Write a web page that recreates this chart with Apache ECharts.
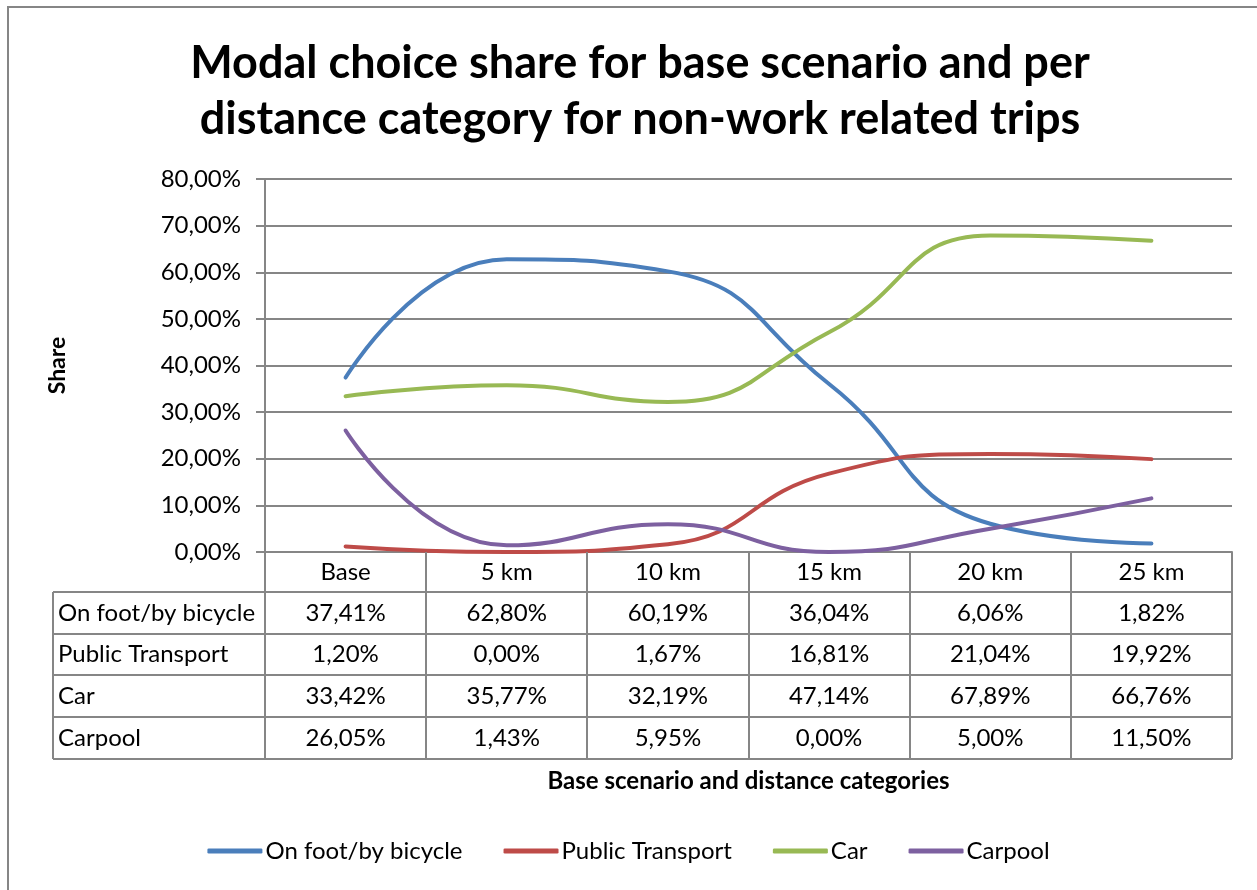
<!DOCTYPE html>
<html>
<head>
<meta charset="utf-8">
<script src="https://cdn.jsdelivr.net/npm/echarts@6/dist/echarts.min.js"></script>
<style>
  html, body { margin: 0; padding: 0; background: #fff; }
  #grafica { width: 1257px; height: 890px; }
</style>
</head>
<body>
<div id="grafica"></div>
<script>
const categorias = ["Base", "5 km", "10 km", "15 km", "20 km", "25 km"];
const aPie = [37.41, 62.80, 60.19, 36.04, 6.06, 1.82];
const transportePublico = [1.20, 0.00, 1.67, 16.81, 21.04, 19.92];
const coche = [33.42, 35.77, 32.19, 47.14, 67.89, 66.76];
const compartido = [26.05, 1.43, 5.95, 0.00, 5.00, 11.50];
const nombres = ["On foot/by bicycle", "Public Transport", "Car", "Carpool"];
const colores = ["#4A7EBB", "#BE4B48", "#98B954", "#7D60A0"];
const yMin = 0, yMax = 80, yPaso = 10;

const valores = [aPie, transportePublico, coche, compartido];
const fuente = "Lato";
const gris = "#868686";
const tam = 24;

const formato = (v) => v.toFixed(2).replace(".", ",") + "%";

const chart = echarts.init(document.querySelector("#grafica"));

const getOption = () => {
  return {
    animation: false,
    textStyle: { fontFamily: fuente },
    title: {
      text: "Modal choice share for base scenario and per\ndistance category for non-work related trips",
      left: 635,
      textAlign: "center",
      top: 30,
      textStyle: { fontSize: 45, fontWeight: "bold", color: "#000", lineHeight: 56, fontFamily: fuente },
    },
    grid: { left: 265, right: 25, top: 179, bottom: 338 },
    legend: {
      data: nombres,
      bottom: 22,
      left: "center",
      icon: "roundRect",
      itemWidth: 55,
      itemHeight: 5,
      itemGap: 41,
      textStyle: { fontSize: tam, color: "#000", fontFamily: fuente, padding: [0, 0, 0, -2] },
    },
    xAxis: {
      type: "category",
      data: categorias,
      boundaryGap: true,
      axisLine: { lineStyle: { color: gris, width: 2 } },
      axisTick: { show: false },
      axisLabel: { fontSize: tam, color: "#000", margin: 8, fontFamily: fuente },
    },
    yAxis: {
      type: "value",
      min: yMin,
      max: yMax,
      interval: yPaso,
      name: "Share",
      nameLocation: "middle",
      nameRotate: 90,
      nameGap: 196,
      nameTextStyle: { fontSize: 23, fontWeight: "bold", color: "#000", fontFamily: fuente },
      axisLine: { show: true, lineStyle: { color: gris, width: 2 } },
      axisTick: { show: true, length: 9, lineStyle: { color: gris, width: 2 } },
      splitLine: { lineStyle: { color: gris, width: 2 } },
      axisLabel: {
        fontSize: tam,
        color: "#000",
        margin: 24,
        fontFamily: fuente,
        formatter: (v) => formato(v),
      },
    },
    series: nombres.map((n, i) => ({
      name: n,
      type: "line",
      data: valores[i],
      smooth: 0.5,
      symbol: "none",
      lineStyle: { width: 4, color: colores[i], cap: "round" },
      itemStyle: { color: colores[i] },
    })),
  };
};

chart.setOption(getOption());

// tabla de datos debajo del eje
const armarTabla = () => {
  const c0 = chart.convertToPixel({ xAxisIndex: 0 }, 0);
  const c1 = chart.convertToPixel({ xAxisIndex: 0 }, 1);
  const ancho = c1 - c0;
  const x0 = Math.round(c0 - ancho / 2);
  const yEje = Math.round(chart.convertToPixel({ yAxisIndex: 0 }, 0));
  const xDer = Math.round(x0 + ancho * categorias.length);
  const xIzq = 53;
  const altoCab = 40;
  const altoFila = 41.7;
  const g = [];
  const linea = (x1, y1, x2, y2) =>
    g.push({ type: "line", shape: { x1, y1, x2, y2 }, style: { stroke: gris, lineWidth: 2 }, z: 10 });

  const yCab = yEje + altoCab;
  const yFin = Math.round(yCab + altoFila * valores.length);
  // verticales
  for (let j = 0; j <= categorias.length; j++) {
    const x = Math.round(x0 + ancho * j);
    linea(x, yEje, x, yFin);
  }
  linea(xIzq, yCab, xIzq, yFin);
  // horizontales
  for (let i = 0; i <= valores.length; i++) {
    const y = Math.round(yCab + altoFila * i);
    linea(xIzq, y, xDer, y);
  }
  // textos
  valores.forEach((fila, i) => {
    const yc = yCab + altoFila * i + altoFila / 2;
    g.push({
      type: "text",
      x: xIzq + 5,
      y: yc,
      style: { text: nombres[i], fontSize: tam, fontFamily: fuente, fill: "#000", textVerticalAlign: "middle" },
      z: 11,
    });
    fila.forEach((v, j) => {
      g.push({
        type: "text",
        x: x0 + ancho * j + ancho / 2,
        y: yc,
        style: { text: formato(v), fontSize: tam, fontFamily: fuente, fill: "#000", textAlign: "center", textVerticalAlign: "middle" },
        z: 11,
      });
    });
  });
  // titulo eje x
  g.push({
    type: "text",
    x: (x0 + xDer) / 2,
    y: 781,
    style: { text: "Base scenario and distance categories", fontSize: 24, fontWeight: "bold", fontFamily: fuente, fill: "#000", textAlign: "center", textVerticalAlign: "middle" },
  });
  // borde exterior
  g.push({
    type: "rect",
    shape: { x: 8, y: 7, width: 1270, height: 900 },
    style: { fill: "none", stroke: gris, lineWidth: 2 },
    silent: true,
  });
  chart.setOption({ graphic: g });
};
armarTabla();
</script>
</body>
</html>
